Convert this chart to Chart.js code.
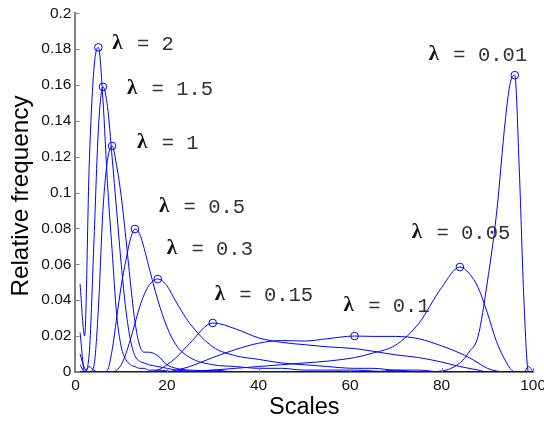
<!DOCTYPE html>
<html>
<head>
<meta charset="utf-8">
<script src="https://cdn.jsdelivr.net/npm/chart.js@4/dist/chart.umd.min.js"></script>
<style>
  html, body { margin: 0; padding: 0; overflow: hidden; background: #fff; }
  #wrap { width: 551px; height: 422px; }
</style>
</head>
<body>
<div id="wrap"><canvas id="myChart"></canvas></div>
<script>
// scale values shared by every curve
var scales = [1,2,3,4,5,6,7,8,9,10,11,12,13,14,15,16,18,20,22,25,30,35,40,45,50,55,61,65,70,75,80,84,86,88,90,92,94,95,96,97,98,99,100]

// relative frequency per scale, one list per lambda
var lam2   = [0.049,0.020,0.115,0.168,0.181,0.152,0.105,0.068,0.032,0.014, 0.007,0.004,0.003,0.002,0.002,0.001,0.001,0.0005,0,0, 0.001,0,0,0,0,0,0,0,0,0, 0,0,0,0,0,0,0,0,0,0, 0,0,0]
var lam15  = [0.022,0,0.010,0.070,0.135,0.159,0.148,0.120,0.090,0.060, 0.035,0.018,0.009,0.006,0.005,0.004,0.003,0.002,0.001,0.0005, 0,0,0,0,0,0,0,0,0.001,0, 0,0,0,0,0,0,0,0,0,0, 0,0,0]
var lam1   = [0.010,0.002,0,0.003,0.035,0.090,0.118,0.126,0.115,0.098, 0.075,0.050,0.028,0.015,0.011,0.011,0.009,0.004,0.002,0.001, 0.0005,0,0,0,0,0,0,0,0,0, 0,0,0,0,0,0,0,0,0,0, 0,0,0]
var lam05  = [0,0,0,0,0,0,0.001,0.012,0.030,0.048, 0.062,0.074,0.0797,0.077,0.069,0.059,0.040,0.025,0.015,0.008, 0.004,0.003,0.002,0.002,0.001,0.001,0.001,0.0005,0,0, 0,0,0,0,0,0,0,0,0,0, 0,0,0]
var lam03  = [0,0,0,0,0,0,0,0,0.001,0.004, 0.010,0.018,0.027,0.036,0.043,0.048,0.0518,0.048,0.039,0.027, 0.014,0.009,0.007,0.005,0.004,0.003,0.002,0.002,0.001,0.001, 0,0,0,0,0,0,0,0,0,0, 0,0,0]
var lam015 = [0,0,0,0,0,0,0,0,0,0, 0,0,0,0,0,0,0.001,0.004,0.008,0.016, 0.0273,0.024,0.019,0.0165,0.0152,0.014,0.013,0.0115,0.0095,0.008, 0.0055,0.003,0.002,0.001,0,0,0,0,0,0, 0,0,0]
var lam01  = [0,0,0,0,0,0,0,0,0,0, 0,0,0,0,0,0,0,0,0.001,0.003, 0.008,0.0125,0.016,0.0175,0.0172,0.0185,0.020,0.0198,0.0198,0.0185, 0.0145,0.0105,0.008,0.005,0.002,0.0005,0,0,0,0, 0,0,0]
var lam005 = [0,0,0,0,0,0,0,0,0,0, 0,0,0,0,0,0,0,0,0,0, 0.001,0.002,0.003,0.004,0.005,0.006,0.008,0.0105,0.015,0.027, 0.047,0.0585,0.055,0.047,0.033,0.017,0.006,0.002,0,0, 0,0.003,0]
var lam001 = [0.004,0,0.003,0.001,0,0,0,0,0,0, 0,0,0,0,0,0,0,0,0,0, 0,0,0,0,0,0,0,0,0,0, 0.0005,0.005,0.011,0.020,0.050,0.088,0.142,0.161,0.1655,0.112, 0.040,0,0]

var lambdas = [2, 1.5, 1, 0.5, 0.3, 0.15, 0.1, 0.05, 0.01]
var series  = [lam2, lam15, lam1, lam05, lam03, lam015, lam01, lam005, lam001]

// axis ticks
var xTicks = [0, 20, 40, 60, 80, 100]
var yTicks = [0, 0.02, 0.04, 0.06, 0.08, 0.1, 0.12, 0.14, 0.16, 0.18, 0.2]
var yTickLabels = ['0','0.02','0.04','0.06','0.08','0.1','0.12','0.14','0.16','0.18','0.2']

// where each lambda caption sits relative to its peak marker (px)
var labelOffsets = [[14,-3],[24,3],[25,-2],[24,-21],[9,-29],[2,-27],[-11,-29],[-48,-33],[-86,-20]]

var blue = '#0000ff'
var axisGray = '#808080'

function peakIndex(vals){
    var best = 0
    for (var i = 1; i < vals.length; i++) {
        if (vals[i] > vals[best]) best = i
    }
    return best
}

var datasets = series.map(function(vals, k){
    var pk = peakIndex(vals)
    return {
        label: 'λ = ' + lambdas[k],
        data: scales.map(function(s, i){ return {x: s, y: vals[i]} }),
        borderColor: blue,
        borderWidth: 1,
        cubicInterpolationMode: 'monotone',
        pointStyle: 'circle',
        pointRadius: vals.map(function(v, i){ return i === pk ? 3.8 : 0 }),
        pointBorderColor: blue,
        pointBorderWidth: 1,
        pointBackgroundColor: 'rgba(0,0,0,0)',
        fill: false,
        peak: pk
    }
})

// lambda captions next to each peak: a heavy λ, then the value in monospace
var lambdaLabels = {
    id: 'lambdaLabels',
    afterDatasetsDraw: function(chart){
        var ctx = chart.ctx
        var mono = '20.5px "Liberation Mono", monospace'
        ctx.save()
        ctx.font = mono
        var cell = ctx.measureText('0').width
        ctx.textAlign = 'left'
        ctx.textBaseline = 'middle'
        chart.data.datasets.forEach(function(ds, k){
            var pt = chart.getDatasetMeta(k).data[ds.peak]
            var off = labelOffsets[k]
            var x = pt.x + off[0], y = pt.y + off[1]
            ctx.font = 'bold 21px "Liberation Serif", serif'
            ctx.fillStyle = '#111'
            ctx.fillText('λ', x, y - 1)
            ctx.font = mono
            ctx.fillStyle = '#333'
            ctx.fillText(ds.label.slice(1), x + cell, y)
        })
        ctx.restore()
    }
}

// short tick marks pointing into the plot
var innerTicks = {
    id: 'innerTicks',
    afterDraw: function(chart){
        var ctx = chart.ctx
        var xs = chart.scales.x, ys = chart.scales.y
        ctx.save()
        ctx.strokeStyle = axisGray
        ctx.lineWidth = 1
        ctx.beginPath()
        xTicks.forEach(function(v){
            var px = Math.round(xs.getPixelForValue(v)) + 0.5
            ctx.moveTo(px, ys.bottom)
            ctx.lineTo(px, ys.bottom - 4)
        })
        yTicks.forEach(function(v){
            var py = Math.round(ys.getPixelForValue(v)) + 0.5
            ctx.moveTo(xs.left, py)
            ctx.lineTo(xs.left + 4, py)
        })
        ctx.stroke()
        ctx.restore()
    }
}

var sans = '"Liberation Sans", Arial, sans-serif'
var tickFont = {family: sans, size: 15.5}

var ctx = document.getElementById('myChart')
var myChart = new Chart(ctx, {
    type: 'line',
    data: { datasets: datasets },
    options: {
        responsive: true,
        maintainAspectRatio: false,
        animation: false,
        layout: { padding: { left: 9, top: 10, right: 0, bottom: 0 } },
        plugins: {
            legend: { display: false },
            tooltip: { enabled: false }
        },
        scales: {
            x: {
                type: 'linear',
                min: 0,
                max: 100,
                afterBuildTicks: function(scale){
                    scale.ticks = xTicks.map(function(v){ return {value: v} })
                },
                ticks: { color: '#111', font: tickFont, padding: 5, maxRotation: 0 },
                grid: { display: false, drawTicks: false },
                border: { display: true, color: axisGray, width: 2 },
                title: { display: true, text: 'Scales', color: '#000', font: {family: sans, size: 23.5, lineHeight: 1}, padding: { top: -5, bottom: 3 } }
            },
            y: {
                type: 'linear',
                min: 0,
                max: 0.2,
                afterBuildTicks: function(scale){
                    scale.ticks = yTicks.map(function(v){ return {value: v} })
                },
                ticks: {
                    color: '#111',
                    font: tickFont,
                    padding: 4,
                    callback: function(value, index){ return yTickLabels[index] }
                },
                grid: { display: false, drawTicks: false },
                border: { display: true, color: axisGray, width: 2 },
                title: { display: true, text: 'Relative frequency ', color: '#000', font: {family: sans, size: 24.3, lineHeight: 1}, padding: { top: 0, bottom: 4 } }
            }
        }
    },
    plugins: [lambdaLabels, innerTicks]
});
</script>
</body>
</html>
